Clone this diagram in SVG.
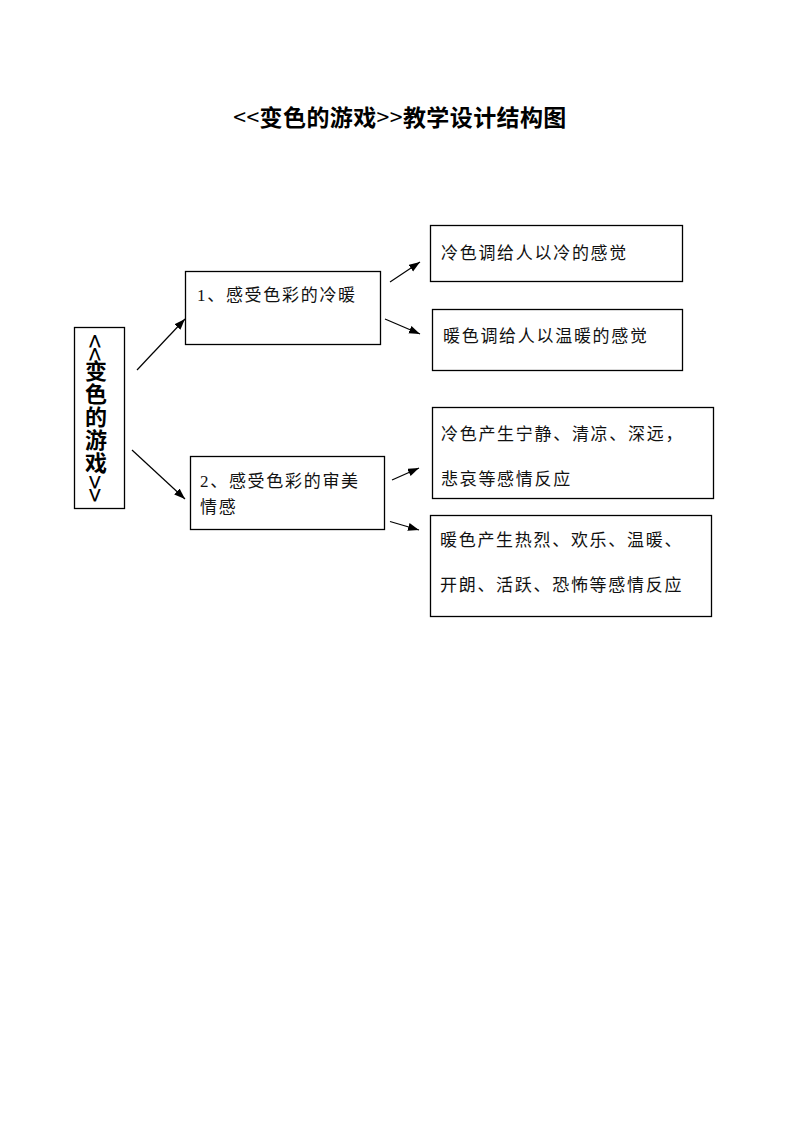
<svg xmlns="http://www.w3.org/2000/svg" width="800" height="1132" viewBox="0 0 800 1132">
<style>
.box{fill:#fff;stroke:#000;stroke-width:1.3}
.t{font-family:"Liberation Serif","Noto Sans CJK SC",serif;font-size:17px;letter-spacing:1.7px;fill:#111}
.h{font-family:"Noto Sans CJK SC","Liberation Sans",sans-serif;font-weight:bold;fill:#000}
.n{font-weight:normal}
.c{stroke:#000;stroke-width:1.2;fill:none;marker-end:url(#ah)}
</style>
<defs>
<marker id="ah" markerUnits="userSpaceOnUse" markerWidth="12" markerHeight="10" refX="11" refY="4" orient="auto">
<path d="M0,0 L11,4 L0,8 Z" fill="#000"/>
</marker>
</defs>
<rect width="800" height="1132" fill="#fff"/>
<text id="title" class="h" x="400" y="126" font-size="23" letter-spacing="0.4" text-anchor="middle"><tspan class="n">&lt;&lt;</tspan>变色的游戏<tspan class="n">&gt;&gt;</tspan>教学设计结构图</text>

<g id="root">
<rect class="box" x="74.5" y="327.5" width="50" height="181"/>
<text class="h" x="96" y="334" font-size="22" letter-spacing="1" style="writing-mode:vertical-rl"><tspan class="n" font-size="26" letter-spacing="-1.5">&lt;&lt;</tspan>变色的游戏<tspan class="n" font-size="26" letter-spacing="-1.5">&gt;&gt;</tspan></text>
</g>

<g id="n1">
<rect class="box" x="185.5" y="271.5" width="195" height="73"/>
<text class="t" x="197" y="301">1、感受色彩的冷暖</text>
</g>
<g id="n2">
<rect class="box" x="190.5" y="456.5" width="194" height="73"/>
<text class="t" x="200" y="487">2、感受色彩的审美</text>
<text class="t" x="200" y="513">情感</text>
</g>
<g id="a1">
<rect class="box" x="430.5" y="225.5" width="252" height="56"/>
<text class="t" x="441" y="259">冷色调给人以冷的感觉</text>
</g>
<g id="a2">
<rect class="box" x="432.5" y="309.5" width="250" height="61"/>
<text class="t" x="443" y="342">暖色调给人以温暖的感觉</text>
</g>
<g id="b1">
<rect class="box" x="432.5" y="407.5" width="281" height="91"/>
<text class="t" x="441" y="440">冷色产生宁静、清凉、深远，</text>
<text class="t" x="441" y="485">悲哀等感情反应</text>
</g>
<g id="b2">
<rect class="box" x="430.5" y="515.5" width="281" height="101"/>
<text class="t" x="440" y="546">暖色产生热烈、欢乐、温暖、</text>
<text class="t" x="440" y="591">开朗、活跃、恐怖等感情反应</text>
</g>

<g id="connectors">
<line class="c" x1="137" y1="370" x2="185" y2="319"/>
<line class="c" x1="132" y1="450" x2="185" y2="499"/>
<line class="c" x1="390" y1="282" x2="420" y2="262"/>
<line class="c" x1="385" y1="319" x2="420" y2="334"/>
<line class="c" x1="392" y1="480" x2="419" y2="468"/>
<line class="c" x1="390" y1="521.5" x2="419" y2="530"/>
</g>
</svg>
